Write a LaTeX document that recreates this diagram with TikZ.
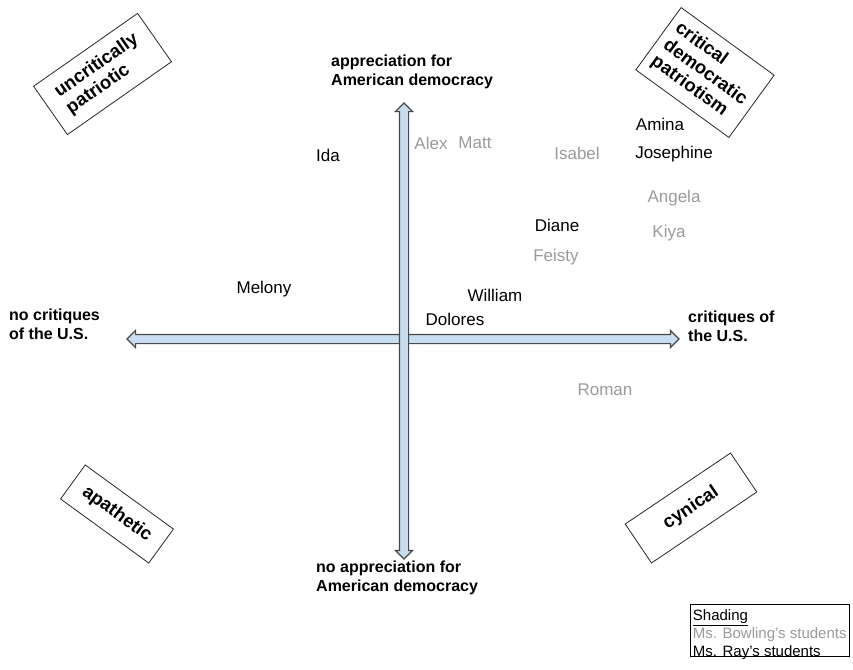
\documentclass[tikz,border=0pt]{standalone}
\usepackage{fontspec}
\setmainfont{Liberation Sans}
\usepackage{tikz}
\usetikzlibrary{shapes.arrows}
\definecolor{axisfill}{HTML}{C9DDF0}
\definecolor{axisline}{HTML}{484848}
\definecolor{bowlgray}{HTML}{9A9A9A}
\tikzstyle{axis}=[double arrow,draw=axisline,fill=axisfill,line width=1.1pt,inner sep=4pt,double arrow head extend=4pt]
\tikzstyle{quadrant}=[draw=black!85,line width=0.8pt,font=\bfseries\fontsize{18.5}{20.5}\selectfont,align=left,inner sep=0pt]
\tikzstyle{axislabel}=[font=\bfseries\fontsize{16}{19}\selectfont,align=left,inner sep=0pt]

\begin{document}
\begin{tikzpicture}[x=1pt,y=-1pt]

	\tikzstyle{ray}=[font=\fontsize{17}{20}\selectfont,inner sep=0pt];
	\tikzstyle{bowling}=[ray,text=bowlgray];

	\useasboundingbox (0,0) rectangle (853,669);

	% axes
	\node (haxis) [axis,minimum height=552pt] at (403,339) {};
	\node (vaxis) [axis,rotate=90,minimum height=456pt] at (404,331) {};

	\node (uplabel) [axislabel,anchor=north west] at (331,55) {appreciation for\\American democracy};
	\node (downlabel) [axislabel,anchor=north west] at (316,561) {no appreciation for\\American democracy};
	\node (leftlabel) [axislabel,anchor=north west] at (9,309) {no critiques\\of the U.S.};
	\node (rightlabel) [axislabel,anchor=north west] at (688,311) {critiques of\\the U.S.};

	% quadrants
	\node (uncrit) [quadrant,rotate=35,minimum width=127pt,minimum height=59pt] at (102.5,74) {uncritically\\patriotic};
	\node (critical) [quadrant,rotate=-36,minimum width=115pt,minimum height=77pt] at (705,72.5) {critical\\democratic\\patriotism};
	\node (apathetic) [quadrant,rotate=-36,minimum width=109pt,minimum height=42pt] at (117,514) {apathetic};
	\node (cynical) [quadrant,rotate=34,minimum width=127pt,minimum height=47pt] at (691,508) {cynical};

	% students
	\node (ida) [ray] at (328,155) {Ida};
	\node (alex) [bowling] at (431,143) {Alex};
	\node (matt) [bowling] at (475,143) {Matt};
	\node (isabel) [bowling] at (577,153) {Isabel};
	\node (amina) [ray] at (660,124) {Amina};
	\node (josephine) [ray] at (674,154) {Josephine};
	\node (angela) [bowling] at (674,198) {Angela};
	\node (kiya) [bowling] at (669,233) {Kiya};
	\node (diane) [ray] at (557,225) {Diane};
	\node (feisty) [bowling] at (556,257) {Feisty};
	\node (melony) [ray] at (264,289) {Melony};
	\node (william) [ray] at (495,295) {William};
	\node (dolores) [ray] at (455,319) {Dolores};
	\node (roman) [bowling] at (605,390) {Roman};

	% legend
	\node (legend) [draw,line width=0.8pt,anchor=north east,align=left,inner xsep=3pt,inner ysep=0pt,text depth=0pt,font=\fontsize{15}{18}\selectfont] at (850,604)
		{\rule{0pt}{16pt}\underline{Shading}\\\textcolor{bowlgray}{Ms. Bowling's students}\\Ms. Ray's students};
\end{tikzpicture}
\end{document}
